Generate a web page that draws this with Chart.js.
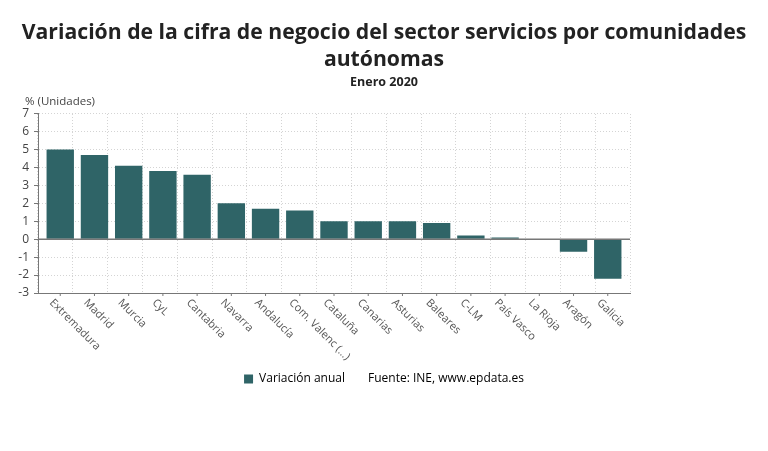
<!DOCTYPE html>
<html>
<head>
<meta charset="utf-8">
<script src="https://cdn.jsdelivr.net/npm/chart.js@4/dist/chart.umd.min.js"></script>
<style>
body { margin: 0; background: #fff; }
#caja { width: 768px; height: 451px; }
</style>
</head>
<body>
<div id="caja"><canvas id="grafica"></canvas></div>
<script>
// Datos
const comunidades = ['Extremadura', 'Madrid', 'Murcia', 'CyL', 'Cantabria', 'Navarra', 'Andalucía',
    'Com. Valenc (...)', 'Cataluña', 'Canarias', 'Asturias', 'Baleares', 'C-LM', 'País Vasco',
    'La Rioja', 'Aragón', 'Galicia'];
const variacionAnual = [5.0, 4.7, 4.1, 3.8, 3.6, 2.0, 1.7, 1.6, 1.0, 1.0, 1.0, 0.9, 0.2, 0.1, 0, -0.7, -2.2];
const titulo = ['Variación de la cifra de negocio del sector servicios por comunidades', 'autónomas'];
const subtitulo = 'Enero 2020';
const ejeY = '% (Unidades)';
const fuente = 'Fuente: INE, www.epdata.es';

const colorBarras = '#2f6467';
const fuenteTexto = '"Open Sans", "Noto Sans", sans-serif';
Chart.defaults.font.family = fuenteTexto;

// etiquetas giradas, linea del cero y titulo del eje
const extras = {
    id: 'extras',
    afterDatasetsDraw(chart) {
        const {ctx, chartArea, scales} = chart;
        const y0 = scales.y.getPixelForValue(0);
        ctx.save();
        ctx.strokeStyle = '#777';
        ctx.lineWidth = 1.5;
        ctx.beginPath();
        ctx.moveTo(chartArea.left, y0);
        ctx.lineTo(chartArea.right, y0);
        ctx.stroke();
        ctx.restore();
    },
    afterDraw(chart) {
        const {ctx, chartArea, scales} = chart;
        ctx.save();
        ctx.font = '11.5px ' + fuenteTexto;
        ctx.fillStyle = '#444';
        ctx.textAlign = 'left';
        ctx.textBaseline = 'bottom';
        ctx.fillText(ejeY, chartArea.left - 13, chartArea.top - 6);

        ctx.font = '11px ' + fuenteTexto;
        ctx.fillStyle = '#555';
        ctx.textBaseline = 'middle';
        ctx.strokeStyle = '#777';
        ctx.lineWidth = 1;
        comunidades.forEach((c, i) => {
            const x = scales.x.getPixelForValue(i);
            ctx.beginPath();
            ctx.moveTo(x, chartArea.bottom);
            ctx.lineTo(x, chartArea.bottom + 3);
            ctx.stroke();
            ctx.save();
            ctx.translate(x - 9, chartArea.bottom + 8);
            ctx.rotate(Math.PI / 4);
            ctx.fillText(c, 0, 0);
            ctx.restore();
        });
        ctx.restore();
    }
};

const ctx = document.getElementById('grafica').getContext('2d');
const grafica = new Chart(ctx, {
    type: 'bar',
    data: {
        datasets: [{
            label: 'Variación anual',
            data: variacionAnual.map((v, i) => ({ x: i, y: v })),
            backgroundColor: colorBarras,
            barPercentage: 0.8,
            categoryPercentage: 1
        }]
    },
    options: {
        responsive: true,
        maintainAspectRatio: false,
        animation: false,
        layout: { padding: { left: 0, right: 0, top: 0, bottom: 56 } },
        plugins: {
            title: {
                display: true,
                text: titulo,
                color: '#222',
                font: { size: 21.2, weight: 'bold', lineHeight: 1.29 },
                padding: { top: 19, bottom: 1 }
            },
            subtitle: {
                display: true,
                text: subtitulo,
                color: '#222',
                font: { size: 12.5, weight: 'bold' },
                padding: { top: 0, bottom: 24 }
            },
            legend: {
                position: 'bottom',
                labels: {
                    boxWidth: 9,
                    boxHeight: 9,
                    padding: 8,
                    color: '#333',
                    font: { size: 12 },
                    generateLabels: () => [
                        { text: 'Variación anual', fillStyle: colorBarras, strokeStyle: colorBarras, lineWidth: 0, hidden: false, datasetIndex: 0 },
                        { text: fuente, fillStyle: 'rgba(0,0,0,0)', strokeStyle: 'rgba(0,0,0,0)', lineWidth: 0, hidden: false }
                    ]
                }
            },
            tooltip: { enabled: false }
        },
        scales: {
            x: {
                type: 'linear',
                offset: false,
                min: -0.65,
                max: 16.65,
                grid: { display: false },
                border: { color: '#777' },
                ticks: { display: false },
                afterFit: s => { s.height = 72; }
            },
            rejilla: {
                type: 'linear',
                axis: 'x',
                position: 'top',
                min: 0,
                max: 16,
                ticks: { display: false, stepSize: 1 },
                grid: { color: '#d4d4d4', drawTicks: false },
                border: { display: false, dash: [1, 2] },
                afterFit: s => { s.height = 0; }
            },
            y: {
                min: -3,
                max: 7,
                ticks: { stepSize: 1, color: '#444', font: { size: 12 }, padding: 5 },
                grid: { color: '#d4d4d4', tickLength: 4, tickColor: '#777' },
                border: { color: '#777', dash: [1, 2] },
                afterFit: s => { s.width = 38; }
            },
            margen: {
                position: 'right',
                grid: { display: false },
                border: { display: false },
                ticks: { display: false },
                afterFit: s => { s.width = 138; }
            }
        }
    },
    plugins: [extras]
});
</script>
</body>
</html>
